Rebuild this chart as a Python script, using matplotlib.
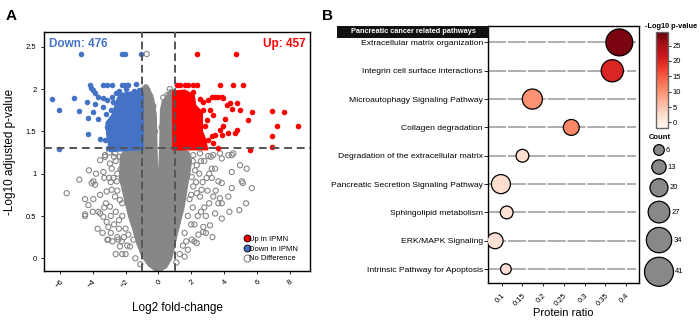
import matplotlib.pyplot as plt
from matplotlib.patches import Polygon, Rectangle
from matplotlib.lines import Line2D
import matplotlib as mpl

plt.rcParams['font.family'] = ['Liberation Sans', 'DejaVu Sans']

# ---------------- A: volcano data ----------------
down_pts = [(-4.71, 2.415), (-2.2, 2.415), (-2.05, 2.415), (-1.04, 2.415),
            (-4.16, 2.05), (-3.35, 2.05), (-3.15, 2.05), (-2.84, 2.05), (-2.23, 2.05),
            (-2.09, 2.05), (-1.93, 2.05), (-1.83, 2.05), (-1.36, 2.06),
            (-6.46, 1.88), (-5.14, 1.89), (-6.04, 1.75), (-4.82, 1.74), (-4.12, 2.01),
            (-3.96, 1.99), (-3.86, 1.95), (-3.66, 1.91), (-3.35, 1.89), (-3.15, 1.87),
            (-2.84, 1.91), (-2.74, 1.85), (-4.37, 1.85), (-3.86, 1.82), (-3.35, 1.79),
            (-4.27, 1.66), (-3.96, 1.73), (-3.66, 1.65), (-4.27, 1.47), (-3.55, 1.41),
            (-3.25, 1.40), (-6.04, 1.29), (-3.05, 1.30), (-2.6, 1.95), (-2.4, 1.98),
            (-2.0, 2.0), (-1.5, 1.98), (-1.2, 1.99), (-3.1, 1.55), (-3.2, 1.7), (-2.9, 1.75)]
up_pts = [(2.38, 2.415), (4.74, 2.415),
          (1.12, 2.05), (1.32, 2.05), (1.63, 2.05), (1.83, 2.05), (2.13, 2.05), (2.34, 2.05),
          (3.76, 2.05), (4.57, 2.05), (5.18, 2.05),
          (1.52, 1.97), (2.13, 1.97), (3.26, 1.91), (3.46, 1.91), (3.66, 1.91), (3.87, 1.91),
          (2.54, 1.88), (2.74, 1.85), (3.05, 1.87), (3.96, 1.89), (4.37, 1.83), (4.48, 1.77),
          (4.17, 1.81), (4.78, 1.83), (4.98, 1.75), (5.70, 1.73), (6.91, 1.74), (7.66, 1.73),
          (5.49, 1.64), (7.26, 1.56), (8.54, 1.56), (6.91, 1.45), (6.91, 1.32), (5.59, 1.28),
          (3.15, 1.75), (3.35, 1.69), (4.07, 1.65), (3.96, 1.56), (3.76, 1.52), (4.27, 1.48),
          (4.78, 1.52), (4.68, 1.48), (3.26, 1.44), (3.46, 1.46), (3.87, 1.46), (2.74, 1.75),
          (2.95, 1.63), (2.85, 1.56), (3.05, 1.40), (3.35, 1.36), (3.66, 1.30)]
ns_pts = [(-0.71, 2.415),
          (-4.23, 1.04), (-4.82, 0.93), (-5.59, 0.77), (-4.06, 0.89), (-3.96, 0.91), (-3.86, 0.87),
          (-4.47, 0.70), (-3.96, 0.70), (-4.27, 0.63), (-4.47, 0.52), (-4.47, 0.50), (-3.55, 0.75),
          (-3.55, 0.53), (-3.66, 0.55), (-3.35, 0.49), (-3.15, 0.43), (-3.05, 0.37), (-2.95, 0.61),
          (-3.05, 0.22), (-2.34, 0.14), (-2.44, 0.22), (-2.23, 0.20), (-3.55, 1.16), (-3.25, 1.20),
          (-2.95, 1.12), (-2.84, 1.06), (-2.74, 0.95), (-2.54, 0.91), (-2.84, 0.81), (-2.64, 0.73),
          (-2.34, 0.69), (-3.15, 0.79), (-1.83, 0.28), (-1.73, 0.14), (-1.52, 0.22), (-3.35, 1.02),
          (-3.11, 0.22),
          (3.87, 1.18), (4.48, 1.22), (4.98, 1.10), (5.39, 1.06), (4.48, 1.02), (3.26, 1.06),
          (3.46, 1.06), (5.09, 0.91), (3.66, 0.91), (3.87, 0.89), (2.95, 0.95), (3.26, 0.95),
          (4.27, 0.73), (3.76, 0.71), (3.35, 0.73), (3.66, 0.65), (5.35, 0.65), (4.94, 0.57),
          (4.33, 0.55), (3.87, 0.47), (3.46, 0.53), (3.15, 0.39), (2.74, 0.37), (2.74, 0.31),
          (2.44, 0.28), (2.34, 0.18), (2.04, 0.22), (2.64, 0.81), (2.34, 0.77), (2.54, 0.73),
          (2.13, 0.85), (2.24, 1.04), (2.04, 0.96), (2.34, 1.10), (5.15, 0.89), (5.70, 0.83),
          (4.48, 0.83), (3.87, 0.65),
          (-3.25, 1.22), (-2.64, 1.24), (-2.34, 1.20), (-1.93, 1.22), (-1.62, 1.20), (2.13, 1.22),
          (2.54, 1.24), (3.05, 1.21), (3.35, 1.22), (3.76, 1.24), (4.27, 1.22), (4.57, 1.24),
          (-0.75, 2.02), (-0.5, 1.92), (-0.3, 1.8), (0.3, 1.9), (0.55, 1.93), (0.7, 2.0),
          (-0.2, 1.5), (0.2, 1.55), (-2.6, 1.15), (-2.5, 1.0), (-2.2, 0.5), (-2.0, 0.35),
          (-1.9, 0.15), (-2.7, 0.4), (-2.4, 0.35), (-2.9, 0.3), (1.6, 0.3), (1.8, 0.5), (1.9, 0.7),
          (2.1, 0.6), (1.5, 0.15), (1.3, 0.05), (2.2, 0.4), (2.6, 0.55), (2.9, 0.5), (2.5, 1.0),
          (2.8, 1.15), (3.0, 0.8), (-1.4, 0.0), (-1.1, -0.07), (1.1, -0.05),
          (-3.3, 0.95), (-3.0, 0.95), (-3.2, 0.65), (-2.9, 0.5), (-2.6, 0.55), (-2.5, 0.25),
          (-2.8, 0.2), (-2.2, 0.05), (-2.6, 0.05), (-3.4, 0.3), (-2.3, 1.05), (-2.7, 1.2),
          (-3.0, 1.25), (-2.1, 0.25), (-2.4, 0.45), (-2.2, 0.65), (-2.5, 0.8), (-2.9, 0.9),
          (-3.3, 0.6), (-3.7, 0.35), (-3.8, 1.0), (-4.0, 0.55), (-2.0, 0.05),
          (2.2, 0.2), (1.8, 0.1), (2.0, 0.4), (2.4, 0.5), (2.8, 0.6), (2.3, 0.9), (2.7, 0.9),
          (3.1, 1.0), (2.6, 1.15), (3.2, 1.2), (2.1, 1.15), (1.7, 0.2), (2.9, 0.3), (3.3, 0.25),
          (2.0, 0.75), (1.6, 0.02), (3.5, 0.8), (3.1, 0.65)]
# outlines of the over-plotted (solid) clouds
down_core = [(-1.0, 1.30), (-2.9, 1.28), (-3.05, 1.45), (-3.1, 1.6), (-2.7, 1.7), (-2.5, 1.85),
             (-2.3, 1.93), (-1.6, 1.95), (-1.0, 1.95)]
up_core = [(0.97, 1.30), (0.97, 1.96), (1.6, 1.97), (2.1, 1.92), (2.2, 1.8), (2.6, 1.72),
           (2.6, 1.5), (2.8, 1.4), (2.9, 1.30)]
ns_core = [(-1.0, 2.0), (-0.8, 2.03), (-0.6, 2.0), (-0.35, 1.88), (-0.2, 1.7), (-0.15, 1.3),
           (-0.1, 0.9), (-0.05, 0.75), (0.05, 0.85), (0.15, 1.3), (0.2, 1.75), (0.3, 1.85),
           (0.5, 1.9), (0.75, 1.98), (0.97, 1.98), (0.97, 1.3), (1.3, 1.28), (1.8, 1.25),
           (1.95, 1.15), (1.85, 1.0), (1.73, 0.88), (1.5, 0.6), (1.3, 0.45), (1.1, 0.3),
           (0.9, 0.12), (0.75, 0.0), (0.45, -0.1), (0.1, -0.14), (-0.2, -0.13), (-0.55, -0.08),
           (-0.95, 0.03), (-1.25, 0.18), (-1.5, 0.35), (-1.75, 0.5), (-2.0, 0.7), (-2.3, 0.95),
           (-2.25, 1.2), (-2.0, 1.28), (-1.0, 1.30)]
n_down, n_up = 476, 457
fc_cut, p_cut = 1, 1.3

# ---------------- B: pathway data ----------------
pathways = ["Extracellular matrix organization", "Integrin cell surface interactions",
            "Microautophagy Signaling Pathway", "Collagen degradation",
            "Degradation of the extracellular matrix", "Pancreatic Secretion Signaling Pathway",
            "Sphingolipid metabolism", "ERK/MAPK Signaling", "Intrinsic Pathway for Apoptosis"]
ratio = [0.384, 0.367, 0.174, 0.268, 0.150, 0.098, 0.112, 0.084, 0.110]
logp = [28, 20, 10, 11, 2.5, 2.5, 2, 2, 2]
count = [37, 28, 24, 16, 10, 22, 10, 16, 6]
count_levels = [6, 13, 20, 27, 34, 41]

BLUE = '#4472C4'
RED = '#FF0000'
GRAY = '#878787'


def bubble_size(c):
    d = 10.7 + (c - 6) * 0.523  # diameter in px
    return (d * 0.72) ** 2


fig = plt.figure(figsize=(7, 3.22), dpi=100)

# ---------------- panel A ----------------
ax = fig.add_axes([0.0629, 0.1584, 0.38, 0.7422])
ax.add_patch(Polygon(ns_core, closed=True, fc=GRAY, ec=GRAY, lw=2.5, zorder=1))
ax.scatter([p[0] for p in ns_pts], [p[1] for p in ns_pts], s=14, facecolors='none',
           edgecolors=GRAY, linewidths=0.8, zorder=2)
ax.add_patch(Polygon(down_core, closed=True, fc=BLUE, ec=BLUE, lw=3, zorder=3))
ax.add_patch(Polygon(up_core, closed=True, fc=RED, ec=RED, lw=3, zorder=3))
ax.scatter([p[0] for p in down_pts], [p[1] for p in down_pts], s=16, c=BLUE, lw=0, zorder=4)
ax.scatter([p[0] for p in up_pts], [p[1] for p in up_pts], s=16, c=RED, lw=0, zorder=4)

for xv in (-fc_cut, fc_cut):
    ax.axvline(xv, color='#555555', lw=1.4, dashes=(4, 2), zorder=5)
ax.axhline(p_cut, color='#555555', lw=1.4, dashes=(4, 2.5), zorder=5)

ax.set_xlim(-6.97, 9.25)
ax.set_ylim(-0.15, 2.675)
ax.set_xticks(range(-6, 9, 2))
ax.set_yticks([0, 0.5, 1, 1.5, 2, 2.5])
ax.set_yticklabels(['0', '0.5', '1', '1.5', '2', '2.5'])
ax.tick_params(labelsize=5.5, length=2, width=0.6)
for lab in ax.get_xticklabels():
    lab.set_rotation(45)
    lab.set_ha('right')
    lab.set_rotation_mode('anchor')
for s in ax.spines.values():
    s.set_linewidth(1.0)
ax.set_xlabel('Log2 fold-change', fontsize=8.5, labelpad=9)
ax.set_ylabel('-Log10 adjusted p-value', fontsize=8.5, labelpad=7)
ax.text(0.02, 0.975, f'Down: {n_down}', transform=ax.transAxes, color=BLUE,
        fontsize=8.5, fontweight='bold', va='top', ha='left')
ax.text(0.985, 0.975, f'Up: {n_up}', transform=ax.transAxes, color=RED,
        fontsize=8.5, fontweight='bold', va='top', ha='right')

handles = [Line2D([], [], ls='', marker='o', ms=5, mfc=RED, mec='black', mew=0.6),
           Line2D([], [], ls='', marker='o', ms=5, mfc=BLUE, mec='black', mew=0.6),
           Line2D([], [], ls='', marker='o', ms=5, mfc='none', mec=GRAY, mew=0.8)]
ax.legend(handles, ['Up in IPMN', 'Down in IPMN', 'No Difference'], loc='lower left',
          bbox_to_anchor=(0.73, 0.02), frameon=False, fontsize=5.5, handletextpad=-0.3,
          labelspacing=0.3, borderpad=0, handlelength=1.2)

fig.text(0.008, 0.95, 'A', fontsize=11, fontweight='bold', va='center')
fig.text(0.46, 0.95, 'B', fontsize=11, fontweight='bold', va='center')

# ---------------- panel B ----------------
bx = fig.add_axes([0.6976, 0.1202, 0.2153, 0.80])
ypos = list(range(len(pathways)))
cmap = plt.get_cmap('Reds')
norm = mpl.colors.Normalize(vmin=-1.7, vmax=29.3)
bx.hlines(ypos, 0.0676, 0.425, color='#a8a8a8', lw=1.3, linestyles=(0, (10, 1)), zorder=1)
bx.scatter(ratio, ypos, s=[bubble_size(c) for c in count], c=logp, cmap=cmap, norm=norm,
           edgecolors='black', linewidths=0.9, zorder=3)
bx.set_xlim(0.0676, 0.4316)
bx.set_ylim(8.5, -0.59)
bx.set_yticks(ypos)
bx.set_yticklabels(pathways, fontsize=6.1)
bx.set_xticks([0.1, 0.15, 0.2, 0.25, 0.3, 0.35, 0.4])
bx.set_xticklabels(['0.1', '0.15', '0.2', '0.25', '0.3', '0.35', '0.4'])
bx.tick_params(axis='x', labelsize=5.5, length=2.5, width=0.6)
bx.tick_params(axis='y', length=3, width=0.6, pad=1)
for lab in bx.get_xticklabels():
    lab.set_rotation(45)
    lab.set_ha('right')
    lab.set_rotation_mode('anchor')
for s in bx.spines.values():
    s.set_linewidth(1.0)
bx.set_xlabel('Protein ratio', fontsize=8, labelpad=1)

# header box
fig.patches.append(Rectangle((337 / 700, 1 - 37.7 / 322), (489 - 337) / 700, 12 / 322,
                             transform=fig.transFigure, fc='#111111', ec='none', zorder=5))
fig.text(413 / 700, 1 - 31.7 / 322, 'Pancreatic cancer related pathways', color='white',
         fontsize=5.3, fontweight='bold', ha='center', va='center', zorder=6)

# colorbar
cax = fig.add_axes([656 / 700, 1 - 127.7 / 322, 12 / 700, 95.4 / 322])
cb = fig.colorbar(mpl.cm.ScalarMappable(norm=norm, cmap=cmap), cax=cax)
cb.set_ticks([0, 5, 10, 15, 20, 25])
cb.ax.tick_params(labelsize=5.5, length=2.5, width=0.6, pad=1)
cb.outline.set_edgecolor('#666666')
cb.outline.set_linewidth(1.0)
fig.text(671 / 700, 1 - 26 / 322, '-Log10 p-value', fontsize=5.3, fontweight='bold',
         ha='center', va='center')

# count legend
fig.text(660 / 700, 1 - 137 / 322, 'Count', fontsize=5.5, fontweight='bold',
         ha='center', va='center')
lx = fig.add_axes([640 / 700, 0, 60 / 700, 1])
lx.set_xlim(0, 60)
lx.set_ylim(322, 0)
lx.axis('off')
radii = [(10.7 + (c - 6) * 0.523) / 2 for c in count_levels]
ly = []
cur = 150
for i, r in enumerate(radii):
    if i > 0:
        cur = cur + radii[i - 1] + r + 4.5
    ly.append(cur)
lx.scatter([19] * len(count_levels), ly, s=[bubble_size(c) for c in count_levels],
           c='#8a8787', edgecolors='black', linewidths=0.9, clip_on=False)
for c, yv, r in zip(count_levels, ly, radii):
    lx.text(19 + r + 1.5, yv, str(c), fontsize=5.5, va='center', ha='left')

fig.savefig('out.png', dpi=100)
